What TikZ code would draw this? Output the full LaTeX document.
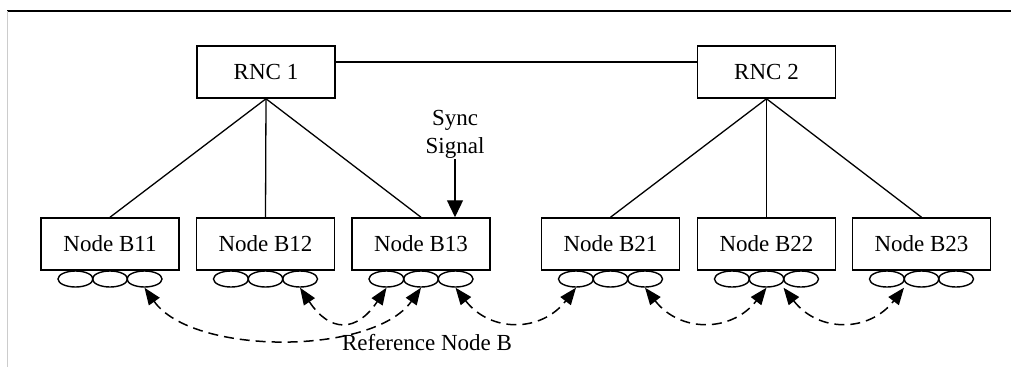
\documentclass[tikz,border=0pt]{standalone}
\usepackage{fontspec}
\setmainfont{Liberation Serif}
\usetikzlibrary{arrows.meta,shapes.geometric,calc}
\begin{document}
\begin{tikzpicture}[x=1pt,y=-1pt,
  txt/.style={font=\fontsize{23}{28}\selectfont},
  box/.style={draw,line width=1.5pt,minimum width=138pt,minimum height=52pt,inner sep=0pt,txt},
  port/.style={draw,ellipse,line width=1.4pt,minimum width=35pt,minimum height=16pt,inner sep=0pt},
  link/.style={line width=1.3pt},
  refarrow/.style={line width=1.5pt,dash pattern=on 10pt off 6pt,
    {Triangle[length=17pt,width=13pt]}-{Triangle[length=17pt,width=13pt]}},
]
\useasboundingbox (0,0) rectangle (1011,367);
% frame
\draw[line width=1.5pt] (7,11) -- (1011,11);
\draw[black!20,line width=1pt] (7,11) -- (7,367);

% RNCs
\node[box] (rnc1) at (266,72) {RNC 1};
\node[box] (rnc2) at (766.5,72) {RNC 2};
\draw[link] ([yshift=10pt]rnc1.east) -- ([yshift=10pt]rnc2.west);

% Node Bs with ports
\foreach \n/\x in {11/110,12/265.5,13/421,21/610.5,22/766.5,23/921.5}{
  \node[box] (b\n) at (\x,244) {Node B\n};
  \node[port] (e\n a) at (\x-34.5,279) {};
  \node[port] (e\n b) at (\x,279) {};
  \node[port] (e\n c) at (\x+34.5,279) {};
}

% tree links
\foreach \r/\b in {rnc1/b11,rnc1/b12,rnc1/b13,rnc2/b21,rnc2/b22,rnc2/b23}{
  \draw[link] (\r.south) -- (\b.north);
}

% sync signal
\node[txt,align=center,inner sep=1pt] (sync) at (455,134) {Sync\\Signal};
\draw[link,-{Triangle[length=17pt,width=16pt]}] (sync.south) -- (sync.south |- b13.north);

% reference arrows
\draw[refarrow] (e11c.south) .. controls +(48,68) and +(-48,68) .. (e13b.south);
\draw[refarrow] (e12c.south) .. controls +(30,45) and +(-30,45) .. (e13a.south);
\draw[refarrow] (e13c.south) .. controls +(35,45) and +(-35,45) .. (e21a.south);
\draw[refarrow] (e21c.south) .. controls +(35,45) and +(-35,45) .. (e22b.south);
\draw[refarrow] ([xshift=-17.5pt]e22c.south) .. controls +(35,45) and +(-35,45) .. ([xshift=-17.5pt]e23b.south);

\node[txt,inner sep=0pt] (refl) at (427,343) {Reference Node B};
\end{tikzpicture}
\end{document}
